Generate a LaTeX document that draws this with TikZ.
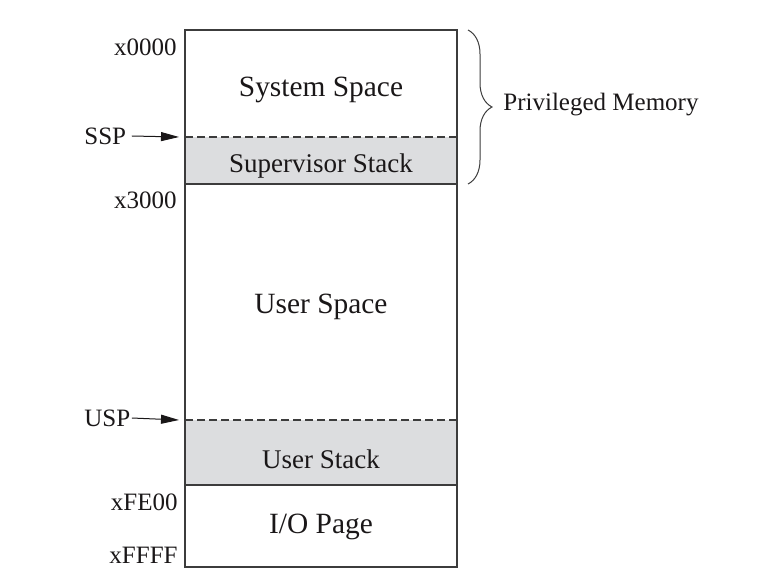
\documentclass[tikz,border=0pt]{standalone}
\usepackage{fontspec}
\setmainfont{Liberation Serif}
\usetikzlibrary{arrows.meta,positioning,decorations.pathreplacing}
\definecolor{ink}{HTML}{1A1718}
\definecolor{frame}{HTML}{3C3C3C}
\definecolor{stackfill}{HTML}{DCDDDF}
\tikzset{
  region/.style={minimum width=136pt,inner sep=0pt,outer sep=0pt,
    text height=14.5pt,text depth=3pt,
    text=ink,font=\fontsize{14.7}{17}\selectfont},
  stackregion/.style={region,fill=stackfill,font=\fontsize{13.5}{16}\selectfont},
  addr/.style={anchor=east,inner sep=0pt,text=ink,font=\fontsize{12.5}{14}\selectfont},
  pointer/.style={anchor=west,inner sep=0pt,text width=23.5pt,align=left,
    text=ink,font=\fontsize{12.5}{14}\selectfont},
  arrow/.style={-{Triangle[length=9pt,width=4.5pt]},line width=.5pt,draw=ink},
  divider/.style={line width=.6pt,draw=frame},
  softdivider/.style={divider,dash pattern=on 4pt off 2pt},
  brace/.style={decorate,decoration={brace,amplitude=12pt},line width=.5pt,draw=frame}
}

\begin{document}
\begin{tikzpicture}[x=0.5pt,y=-0.5pt]
\useasboundingbox (0,0) rectangle (760,583);

% Memory map, top to bottom
\node[region,minimum height=53.5pt,text height=16.5pt] (sysspace) at (321,83.5) {System Space};
\node[stackregion,minimum height=23.5pt,below=0pt of sysspace] (supstack) {Supervisor Stack};
\node[region,minimum height=118pt,below=0pt of supstack] (userspace) {User Space};
\node[stackregion,minimum height=32.5pt,text height=18.5pt,below=0pt of userspace] (userstack) {User Stack};
\node[region,minimum height=41pt,text height=10pt,below=0pt of userstack] (iopage) {I/O Page};

\draw[divider] (sysspace.north west) rectangle (iopage.south east);
\draw[softdivider] (supstack.north west) -- (supstack.north east);
\draw[divider] (supstack.south west) -- (supstack.south east);
\draw[softdivider] (userstack.north west) -- (userstack.north east);
\draw[divider] (userstack.south west) -- (userstack.south east);

% Addresses
\node[addr] (a0000) at (177,47) {x0000};
\node[addr] (a3000) at (177,200) {x3000};
\node[addr] (aFE00) at (178,502) {xFE00};
\node[addr] (aFFFF) at (178,555.5) {xFFFF};

% Stack pointers
\node[pointer] (ssp) at (84,136) {SSP};
\node[pointer] (usp) at (84,418) {USP};
\draw[arrow] (ssp.east) -- ([xshift=-3pt]supstack.north west);
\draw[arrow] (usp.east) -- ([xshift=-3pt]userstack.north west);

% Privileged region
\draw[brace] ([xshift=5.5pt]sysspace.north east) -- ([xshift=5.5pt]supstack.south east);
\node[anchor=west,inner sep=0pt,text=ink,font=\fontsize{12.5}{14}\selectfont]
  (privmem) at (503,105) {Privileged Memory};

\end{tikzpicture}
\end{document}
